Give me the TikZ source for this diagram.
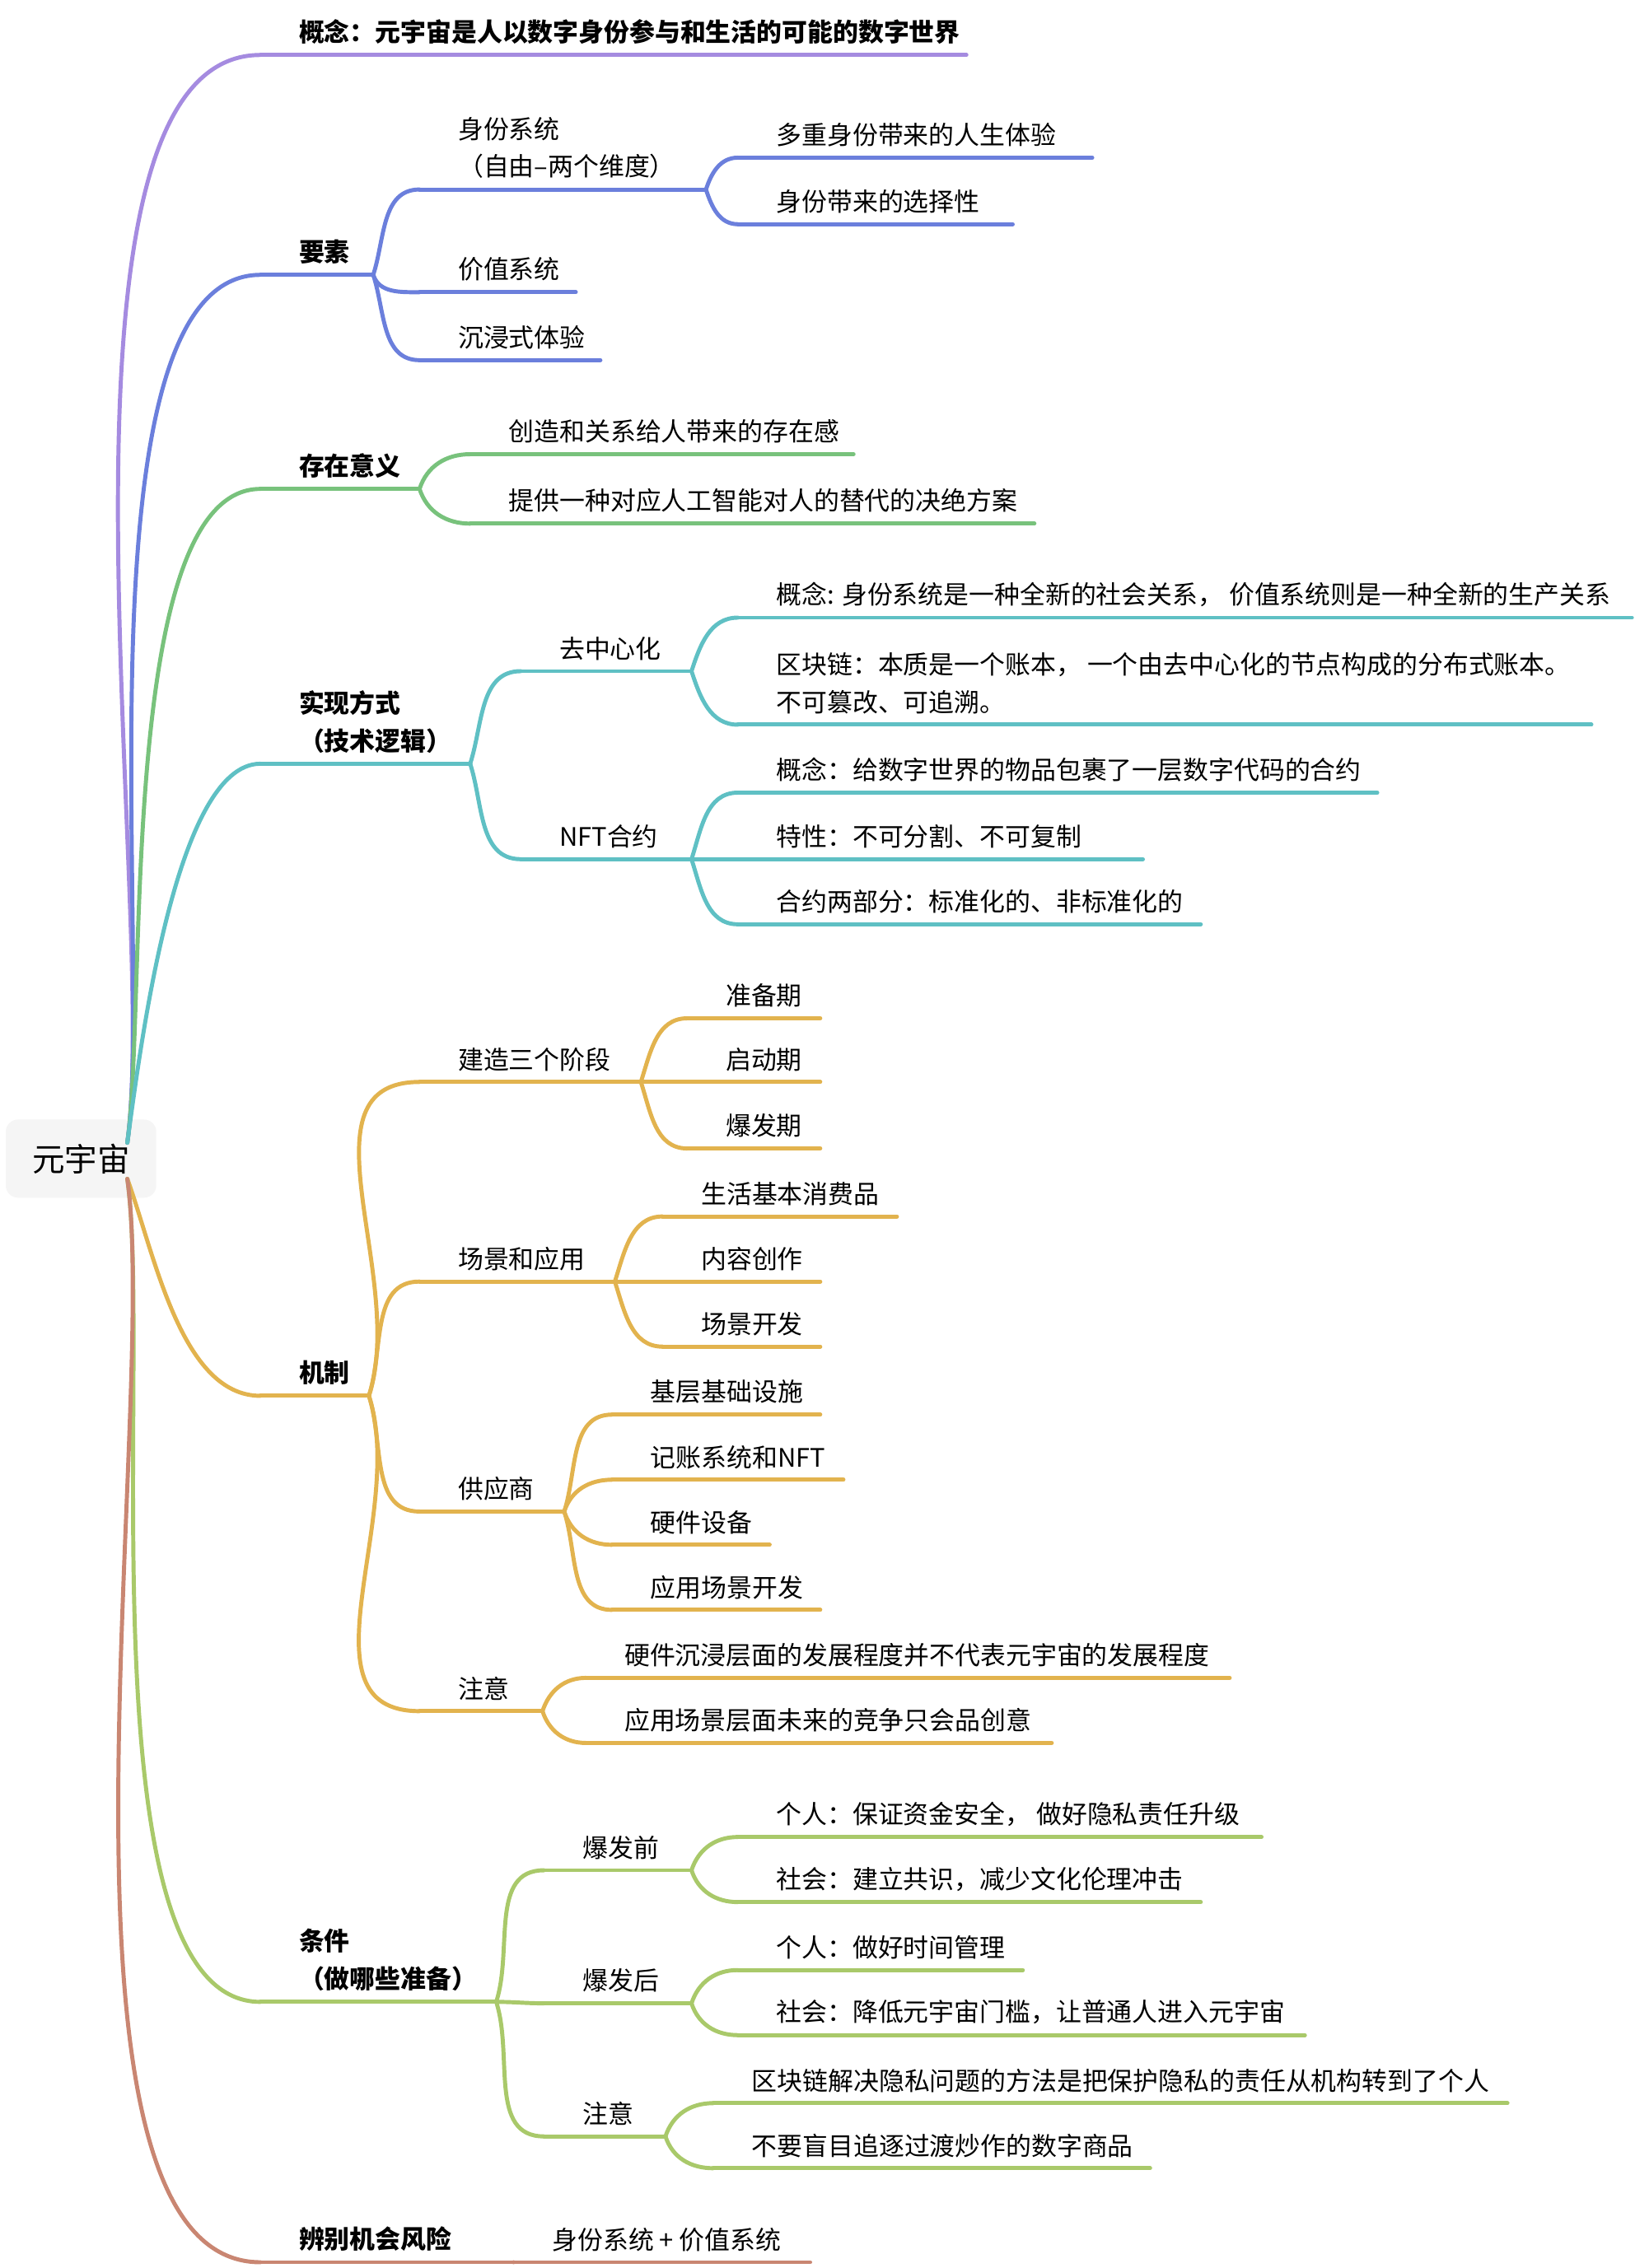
\documentclass[tikz,border=0pt]{standalone}
\usepackage{fontspec}
\setmainfont{Noto Sans CJK SC}
\definecolor{cPur}{HTML}{A58BE0}
\definecolor{cBlu}{HTML}{6B7FDC}
\definecolor{cGrn}{HTML}{78C27C}
\definecolor{cTea}{HTML}{5FC0C4}
\definecolor{cYel}{HTML}{E2B34E}
\definecolor{cLgr}{HTML}{A9C96A}
\definecolor{cBrn}{HTML}{C98672}
\tikzset{
  line/.style={line width=2pt, line cap=round},
  topic/.style={anchor=south west, inner xsep=0.66cm, inner ysep=0.18cm, align=left,
    font=\fontsize{12.5}{18.5}\selectfont},
  main/.style={topic, font=\fontsize{12.5}{18.5}\selectfont\bfseries},
  up/.style={out=72, in=180},
  dn/.style={out=-72, in=180},
  flat/.style={out=0, in=180},
  rup/.style={out=82, in=180, looseness=0.55},
  rdn/.style={out=-82, in=180, looseness=0.55},
}
% name, x0, x1, y of underline, colour, style, text
\newcommand\topic[7]{%
  \node[#6] (#1) at (#2,#4) {#7};
  \coordinate (#1-e) at (#3,#4);
  \draw[#5, line] (#1.south west) -- (#1-e);
}
\newcommand\link[4]{\draw[#1, line] (#2) to[#3] (#4.south west);}
\begin{document}
\begin{tikzpicture}[x=0.025cm, y=-0.025cm]
    \useasboundingbox (0,0) rectangle (1130,1568);

    % root
    \node[fill=gray!8, rounded corners=6pt, minimum width=2.6cm, minimum height=1.35cm,
      font=\fontsize{16}{20}\selectfont] (root) at (56,801) {元宇宙};
    \coordinate (root-u) at (88,790);
    \coordinate (root-d) at (88,815);

    % level one
    \topic{gn}{180}{668}{38}{cPur}{main}{概念：元宇宙是人以数字身份参与和生活的可能的数字世界}
    \topic{ys}{180}{258}{190}{cBlu}{main}{要素}
    \topic{cz}{180}{290}{338}{cGrn}{main}{存在意义}
    \topic{sx}{180}{325}{528}{cTea}{main}{实现方式\\（技术逻辑）}
    \topic{jz}{180}{255}{965}{cYel}{main}{机制}
    \topic{tj}{180}{343}{1384}{cLgr}{main}{条件\\（做哪些准备）}
    \topic{bb}{180}{355}{1564}{cBrn}{main}{辨别机会风险}
    \link{cPur}{root-u}{rup}{gn}
    \link{cBlu}{root-u}{rup}{ys}
    \link{cGrn}{root-u}{rup}{cz}
    \link{cTea}{root-u}{rup}{sx}
    \link{cYel}{root-d}{out=-70,in=180,looseness=0.8}{jz}
    \link{cLgr}{root-d}{rdn}{tj}
    \link{cBrn}{root-d}{rdn}{bb}

    % 要素
    \topic{sf}{290}{488}{131}{cBlu}{topic}{身份系统\\（自由–两个维度）}
    \topic{jzx}{290}{398}{202}{cBlu}{topic}{价值系统}
    \topic{cj}{290}{415}{249}{cBlu}{topic}{沉浸式体验}
    \link{cBlu}{ys-e}{up}{sf}
    \link{cBlu}{ys-e}{dn}{jzx}
    \link{cBlu}{ys-e}{dn}{cj}
    \topic{sf1}{510}{755}{109}{cBlu}{topic}{多重身份带来的人生体验}
    \topic{sf2}{510}{700}{155}{cBlu}{topic}{身份带来的选择性}
    \link{cBlu}{sf-e}{up}{sf1}
    \link{cBlu}{sf-e}{dn}{sf2}

    % 存在意义
    \topic{cz1}{325}{590}{314}{cGrn}{topic}{创造和关系给人带来的存在感}
    \topic{cz2}{325}{715}{362}{cGrn}{topic}{提供一种对应人工智能对人的替代的决绝方案}
    \link{cGrn}{cz-e}{up}{cz1}
    \link{cGrn}{cz-e}{dn}{cz2}

    % 实现方式
    \topic{qz}{360}{478}{464}{cTea}{topic}{去中心化}
    \topic{nft}{360}{478}{594}{cTea}{topic}{NFT合约}
    \link{cTea}{sx-e}{up}{qz}
    \link{cTea}{sx-e}{dn}{nft}
    \topic{qz1}{510}{1128}{427}{cTea}{topic}{概念: 身份系统是一种全新的社会关系， 价值系统则是一种全新的生产关系}
    \topic{qz2}{510}{1100}{501}{cTea}{topic}{区块链：本质是一个账本， 一个由去中心化的节点构成的分布式账本。\\不可篡改、可追溯。}
    \link{cTea}{qz-e}{up}{qz1}
    \link{cTea}{qz-e}{dn}{qz2}
    \topic{nf1}{510}{952}{548}{cTea}{topic}{概念：给数字世界的物品包裹了一层数字代码的合约}
    \topic{nf2}{510}{790}{594}{cTea}{topic}{特性：不可分割、不可复制}
    \topic{nf3}{510}{830}{639}{cTea}{topic}{合约两部分：标准化的、非标准化的}
    \link{cTea}{nft-e}{up}{nf1}
    \link{cTea}{nft-e}{flat}{nf2}
    \link{cTea}{nft-e}{dn}{nf3}

    % 机制
    \topic{jd}{290}{443}{748}{cYel}{topic}{建造三个阶段}
    \topic{cy}{290}{425}{886}{cYel}{topic}{场景和应用}
    \topic{gy}{290}{390}{1045}{cYel}{topic}{供应商}
    \topic{zy}{290}{375}{1183}{cYel}{topic}{注意}
    \link{cYel}{jz-e}{up}{jd}
    \link{cYel}{jz-e}{up}{cy}
    \link{cYel}{jz-e}{dn}{gy}
    \link{cYel}{jz-e}{dn}{zy}
    \topic{jd1}{475}{567}{704}{cYel}{topic}{准备期}
    \topic{jd2}{475}{567}{748}{cYel}{topic}{启动期}
    \topic{jd3}{475}{567}{794}{cYel}{topic}{爆发期}
    \link{cYel}{jd-e}{up}{jd1}
    \link{cYel}{jd-e}{flat}{jd2}
    \link{cYel}{jd-e}{dn}{jd3}
    \topic{cy1}{458}{620}{841}{cYel}{topic}{生活基本消费品}
    \topic{cy2}{458}{567}{886}{cYel}{topic}{内容创作}
    \topic{cy3}{458}{567}{931}{cYel}{topic}{场景开发}
    \link{cYel}{cy-e}{up}{cy1}
    \link{cYel}{cy-e}{flat}{cy2}
    \link{cYel}{cy-e}{dn}{cy3}
    \topic{gy1}{423}{567}{978}{cYel}{topic}{基层基础设施}
    \topic{gy2}{423}{583}{1023}{cYel}{topic}{记账系统和NFT}
    \topic{gy3}{423}{532}{1068}{cYel}{topic}{硬件设备}
    \topic{gy4}{423}{567}{1113}{cYel}{topic}{应用场景开发}
    \link{cYel}{gy-e}{up}{gy1}
    \link{cYel}{gy-e}{up}{gy2}
    \link{cYel}{gy-e}{dn}{gy3}
    \link{cYel}{gy-e}{dn}{gy4}
    \topic{zy1}{405}{850}{1160}{cYel}{topic}{硬件沉浸层面的发展程度并不代表元宇宙的发展程度}
    \topic{zy2}{405}{727}{1205}{cYel}{topic}{应用场景层面未来的竞争只会品创意}
    \link{cYel}{zy-e}{up}{zy1}
    \link{cYel}{zy-e}{dn}{zy2}

    % 条件
    \topic{bq}{376}{478}{1293}{cLgr}{topic}{爆发前}
    \topic{bh}{376}{478}{1385}{cLgr}{topic}{爆发后}
    \topic{zy3}{376}{460}{1477}{cLgr}{topic}{注意}
    \link{cLgr}{tj-e}{up}{bq}
    \link{cLgr}{tj-e}{flat}{bh}
    \link{cLgr}{tj-e}{dn}{zy3}
    \topic{bq1}{510}{872}{1270}{cLgr}{topic}{个人：保证资金安全， 做好隐私责任升级}
    \topic{bq2}{510}{830}{1315}{cLgr}{topic}{社会：建立共识，减少文化伦理冲击}
    \link{cLgr}{bq-e}{up}{bq1}
    \link{cLgr}{bq-e}{dn}{bq2}
    \topic{bh1}{510}{707}{1362}{cLgr}{topic}{个人：做好时间管理}
    \topic{bh2}{510}{902}{1407}{cLgr}{topic}{社会：降低元宇宙门槛，让普通人进入元宇宙}
    \link{cLgr}{bh-e}{up}{bh1}
    \link{cLgr}{bh-e}{dn}{bh2}
    \topic{zy4}{493}{1042}{1454}{cLgr}{topic}{区块链解决隐私问题的方法是把保护隐私的责任从机构转到了个人}
    \topic{zy5}{493}{795}{1499}{cLgr}{topic}{不要盲目追逐过渡炒作的数字商品}
    \link{cLgr}{zy3-e}{up}{zy4}
    \link{cLgr}{zy3-e}{dn}{zy5}

    % 辨别机会风险
    \topic{bb1}{355}{560}{1564}{cBrn}{topic}{身份系统 + 价值系统}
    \link{cBrn}{bb-e}{flat}{bb1}
\end{tikzpicture}
\end{document}
